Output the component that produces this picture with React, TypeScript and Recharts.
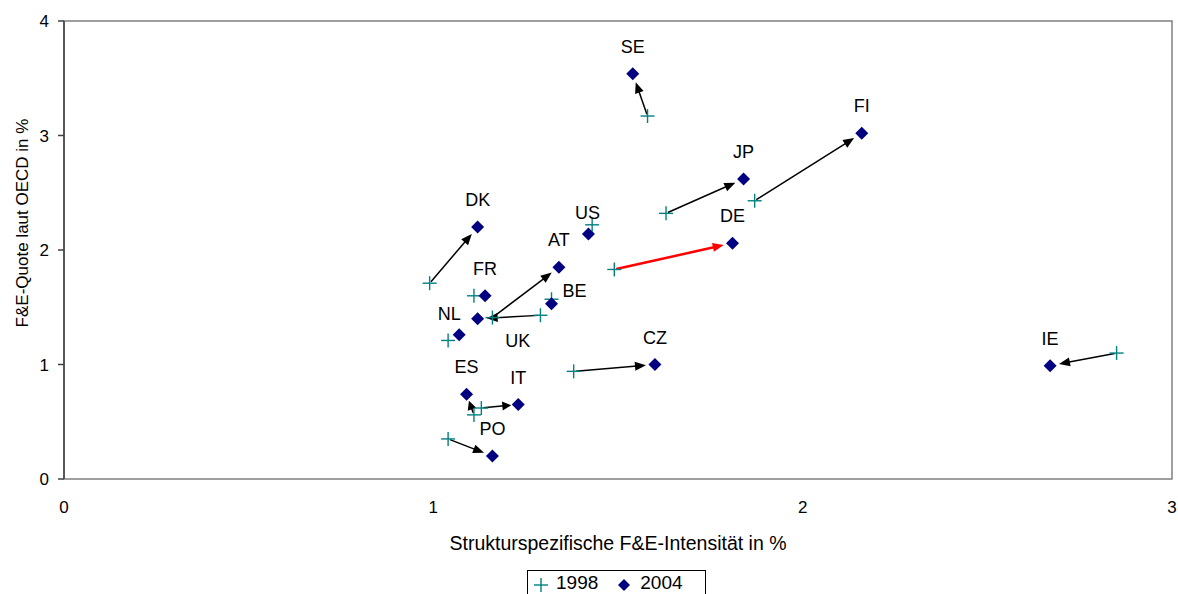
import React from 'react';
import {
  ScatterChart,
  Scatter,
  XAxis,
  YAxis,
  ReferenceArea,
  ReferenceLine,
  LabelList,
} from 'recharts';

// Länder und Werte (1998 -> 2004)
const countries = ['SE', 'FI', 'JP', 'DE', 'US', 'DK', 'AT', 'FR', 'BE', 'NL', 'UK', 'CZ', 'ES', 'IT', 'PO', 'IE'];
const intensity1998 = [1.58, 1.87, 1.63, 1.49, 1.43, 0.99, 1.16, 1.11, 1.32, 1.04, 1.29, 1.38, 1.11, 1.13, 1.04, 2.85];
const quote1998 = [3.17, 2.43, 2.32, 1.83, 2.22, 1.71, 1.41, 1.60, 1.57, 1.21, 1.43, 0.94, 0.56, 0.62, 0.35, 1.10];
const intensity2004 = [1.54, 2.16, 1.84, 1.81, 1.42, 1.12, 1.34, 1.14, 1.32, 1.07, 1.12, 1.60, 1.09, 1.23, 1.16, 2.67];
const quote2004 = [3.54, 3.02, 2.62, 2.06, 2.14, 2.20, 1.85, 1.60, 1.53, 1.26, 1.40, 1.00, 0.74, 0.65, 0.20, 0.99];

// Länder mit eingezeichnetem Pfeil
const arrowCountries = ['SE', 'FI', 'JP', 'DE', 'DK', 'AT', 'UK', 'CZ', 'ES', 'IT', 'PO', 'IE'];

const xTicks = [0, 1, 2, 3];
const yTicks = [0, 1, 2, 3, 4];

const data1998 = countries.map((c, i) => ({ country: c, x: intensity1998[i], y: quote1998[i] }));
const data2004 = countries.map((c, i) => ({ country: c, x: intensity2004[i], y: quote2004[i] }));

// Label-Versatz je Land (px)
const labelOffset: Record<string, [number, number]> = {
  US: [-1, -21],
  BE: [23, -13],
  NL: [-10, -21],
  UK: [40, 22],
};

const FONT = 'Liberation Sans, Arial, sans-serif';
const TEAL = '#008080';
const NAVY = '#000080';

const Cross = ({ cx, cy }: any) => (
  <g stroke={TEAL} strokeWidth={1.4}>
    <line x1={cx - 7} y1={cy} x2={cx + 7} y2={cy} />
    <line x1={cx} y1={cy - 7} x2={cx} y2={cy + 7} />
  </g>
);

const Diamond = ({ cx, cy }: any) => (
  <polygon points={`${cx},${cy - 6.5} ${cx + 6.5},${cy} ${cx},${cy + 6.5} ${cx - 6.5},${cy}`} fill={NAVY} />
);

const makeArrow = (color: string, width: number) => (props: any) => {
  const { x1, y1, x2, y2 } = props;
  const dx = x2 - x1;
  const dy = y2 - y1;
  const len = Math.sqrt(dx * dx + dy * dy);
  const ux = dx / len;
  const uy = dy / len;
  const gap = len < 40 ? 7 : 9;
  const ex = x2 - ux * gap;
  const ey = y2 - uy * gap;
  const hl = len < 40 ? 9 : 11;
  const hw = 4.5;
  const bx = ex - ux * hl;
  const by = ey - uy * hl;
  const pts = `${ex},${ey} ${bx - uy * hw},${by + ux * hw} ${bx + uy * hw},${by - ux * hw}`;
  return (
    <g>
      <line x1={x1 + ux * 2} y1={y1 + uy * 2} x2={bx + ux * 2} y2={by + uy * 2} stroke={color} strokeWidth={width} />
      <polygon points={pts} fill={color} />
    </g>
  );
};

const CountryLabel = (props: any) => {
  const { x, y, width, height, value } = props;
  const cx = x + width / 2;
  const cy = y + height / 2;
  const off = labelOffset[value] || [0, -27];
  return (
    <text x={cx + off[0]} y={cy + off[1]} textAnchor="middle" dominantBaseline="central" fontSize={18} fontFamily={FONT} fill="#000">
      {value}
    </text>
  );
};

const YTitle = ({ viewBox }: any) => {
  const x = 22;
  const y = viewBox.y + viewBox.height / 2 - 27;
  return (
    <text x={x} y={y} transform={`rotate(-90, ${x}, ${y})`} textAnchor="middle" dominantBaseline="central" fontSize={17} fontFamily={FONT} fill="#000">
      F&amp;E-Quote laut OECD in %
    </text>
  );
};

export default function App() {
  return (
    <div style={{ position: 'absolute', left: 0, top: 0, width: 1178, height: 594, overflow: 'hidden', fontFamily: FONT }}>
      <ScatterChart width={1178} height={594} margin={{ top: 21, right: 6, left: 0, bottom: 35 }}>
        <ReferenceArea x1={0} x2={3} y1={0} y2={4} fill="none" stroke="#808080" strokeWidth={1.5} ifOverflow="visible" />
        <XAxis
          type="number"
          dataKey="x"
          domain={[0, 3]}
          ticks={xTicks}
          height={80}
          axisLine={false}
          tickLine={false}
          tickSize={0}
          tickMargin={22}
          tick={{ fontSize: 17, fill: '#000', fontFamily: FONT }}
          label={{ value: 'Strukturspezifische F&E-Intensität in %', position: 'insideBottom', offset: 9, fontSize: 19.5, fill: '#000', fontFamily: FONT }}
        />
        <YAxis
          type="number"
          dataKey="y"
          domain={[0, 4]}
          ticks={yTicks}
          width={64}
          axisLine={{ stroke: '#404040', strokeWidth: 1.5 }}
          tickLine={{ stroke: '#404040', strokeWidth: 1.5 }}
          tickSize={6}
          tickMargin={9}
          tick={{ fontSize: 17, fill: '#000', fontFamily: FONT }}
          label={<YTitle />}
        />
        {countries
          .filter((c) => arrowCountries.includes(c))
          .map((c) => {
            const i = countries.indexOf(c);
            return (
              <ReferenceLine
                key={c}
                segment={[
                  { x: intensity1998[i], y: quote1998[i] },
                  { x: intensity2004[i], y: quote2004[i] },
                ]}
                ifOverflow="visible"
                shape={c === 'DE' ? makeArrow('#ff0000', 2.5) : makeArrow('#000', 1.5)}
              />
            );
          })}
        <Scatter name="1998" data={data1998} shape={<Cross />} isAnimationActive={false} />
        <Scatter name="2004" data={data2004} shape={<Diamond />} isAnimationActive={false}>
          <LabelList dataKey="country" content={<CountryLabel />} />
        </Scatter>
      </ScatterChart>
      <div
        style={{
          position: 'absolute',
          left: 527,
          top: 570,
          width: 179,
          height: 30,
          border: '1px solid #000',
          background: '#fff',
          display: 'flex',
          alignItems: 'flex-start',
          fontSize: 19,
          lineHeight: '24px',
          boxSizing: 'border-box',
        }}
      >
        <svg width={16} height={24} style={{ marginLeft: 5 }}>
          <line x1={1} y1={14} x2={15} y2={14} stroke={TEAL} strokeWidth={1.4} />
          <line x1={8} y1={7} x2={8} y2={21} stroke={TEAL} strokeWidth={1.4} />
        </svg>
        <span style={{ marginLeft: 7 }}>1998</span>
        <svg width={14} height={24} style={{ marginLeft: 19 }}>
          <polygon points="7,8 13,14 7,20 1,14" fill={NAVY} />
        </svg>
        <span style={{ marginLeft: 9 }}>2004</span>
      </div>
    </div>
  );
}
